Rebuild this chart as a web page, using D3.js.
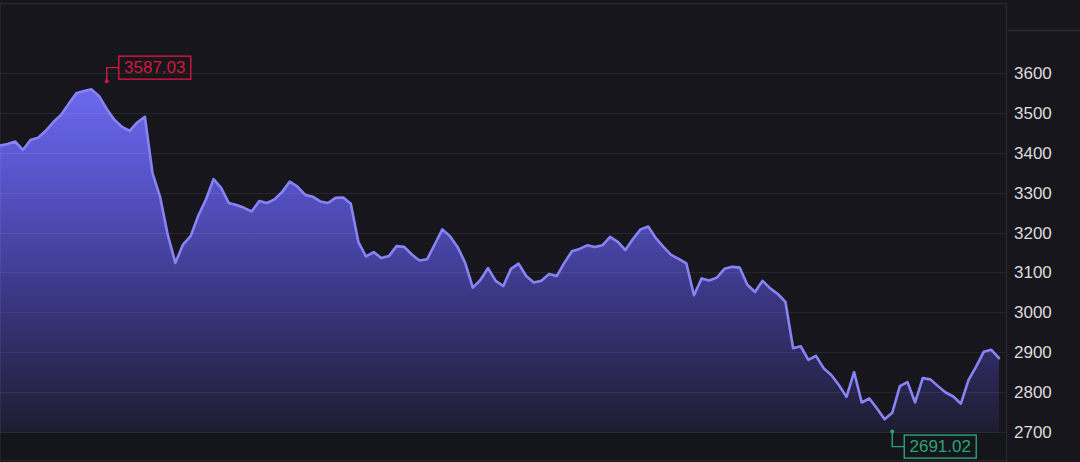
<!DOCTYPE html>
<html>
<head>
<meta charset="utf-8">
<script src="https://cdn.jsdelivr.net/npm/d3@7"></script>
<style>
  html, body { margin: 0; padding: 0; background: #17161c; }
  svg { display: block; }
  text { font-family: "Liberation Sans", Arial, sans-serif; }
</style>
</head>
<body>
<svg id="chart" width="1080" height="462"></svg>
<script>
// ---- data ----
const values = [
  3418, 3422, 3428, 3407, 3432, 3438, 3455, 3477, 3495, 3522,
  3549, 3555, 3559, 3542, 3510, 3483, 3465, 3455, 3476, 3490,
  3349, 3289, 3194, 3124, 3170, 3191, 3242, 3283, 3334, 3312,
  3274, 3269, 3262, 3253, 3279, 3274, 3283, 3302, 3328, 3315,
  3295, 3290, 3278, 3274, 3287, 3288, 3272, 3176, 3140, 3151,
  3136, 3141, 3166, 3164, 3145, 3130, 3133, 3170, 3208, 3191,
  3164, 3124, 3062, 3081, 3111, 3079, 3066, 3109, 3122, 3091,
  3075, 3079, 3096, 3091, 3124, 3153, 3159, 3168, 3164, 3168,
  3189, 3177, 3156, 3184, 3208, 3215, 3186, 3164, 3144, 3134,
  3123, 3043, 3085, 3080, 3087, 3109, 3114, 3112, 3069, 3051,
  3079, 3060, 3046, 3026, 2910, 2915, 2881, 2891, 2860, 2843,
  2818, 2788, 2850, 2774, 2784, 2759, 2732, 2748, 2815, 2825,
  2774, 2835, 2832, 2815, 2799, 2789, 2771, 2830, 2864, 2901,
  2906, 2885
];
const yTicks = [2700, 2800, 2900, 3000, 3100, 3200, 3300, 3400, 3500, 3600];
const maxMark = { index: 14, value: 3587.03, label: "3587.03" };
const minMark = { index: 117, value: 2691.02, label: "2691.02" };

// ---- layout ----
const W = 1080, H = 462;
const plotRight = 1006;
const svg = d3.select("#chart");

const x = d3.scaleLinear().domain([0, values.length - 1]).range([0, 999]);
const y = d3.scaleLinear().domain([2700, 3600]).range([432, 73]);

// background pieces
svg.append("rect").attr("x", 0).attr("y", 0).attr("width", W).attr("height", H).attr("fill", "#17161c");
svg.append("rect").attr("x", 0).attr("y", 433).attr("width", plotRight).attr("height", 27).attr("fill", "#141619");

// gradient
const defs = svg.append("defs");
const grad = defs.append("linearGradient")
  .attr("id", "areaGrad").attr("gradientUnits", "userSpaceOnUse")
  .attr("x1", 0).attr("x2", 0).attr("y1", 75).attr("y2", 433);
[
  [0, "#6f6bf3"],
  [0.25, "#5a57d0"],
  [0.5, "#45429f"],
  [0.63, "#393680"],
  [0.82, "#2b2858"],
  [1, "#1e1c30"]
].forEach(([o, c]) => grad.append("stop").attr("offset", o).attr("stop-color", c));

const area = d3.area()
  .x((d, i) => x(i))
  .y0(y(2698))
  .y1(d => y(d));
svg.append("path").datum(values).attr("d", area).attr("fill", "url(#areaGrad)");

// grid lines (drawn over area, subtle)
svg.append("g").selectAll("line").data(yTicks).join("line")
  .attr("x1", 0).attr("x2", plotRight)
  .attr("y1", d => Math.round(y(d)) + 0.5).attr("y2", d => Math.round(y(d)) + 0.5)
  .attr("stroke", "rgba(255,255,255,0.065)").attr("stroke-width", 1);

// frame lines
svg.append("line").attr("x1", 0).attr("x2", plotRight).attr("y1", 3.5).attr("y2", 3.5)
  .attr("stroke", "#2a2930").attr("stroke-width", 1.5);
svg.append("line").attr("x1", plotRight + 0.5).attr("x2", plotRight + 0.5).attr("y1", 3).attr("y2", H)
  .attr("stroke", "#2a2930").attr("stroke-width", 1.2);
svg.append("line").attr("x1", plotRight + 2).attr("x2", W).attr("y1", 30.5).attr("y2", 30.5)
  .attr("stroke", "#2e2d34").attr("stroke-width", 1.5);
svg.append("line").attr("x1", 0).attr("x2", plotRight).attr("y1", 460.5).attr("y2", 460.5)
  .attr("stroke", "#25262a").attr("stroke-width", 1);
svg.append("line").attr("x1", 0.5).attr("x2", 0.5).attr("y1", 3).attr("y2", 460)
  .attr("stroke", "rgba(255,255,255,0.06)").attr("stroke-width", 1);

// line
const line = d3.line().x((d, i) => x(i)).y(d => y(d));
svg.append("path").datum(values).attr("d", line)
  .attr("fill", "none").attr("stroke", "#8884f5").attr("stroke-width", 2.6)
  .attr("stroke-linejoin", "round").attr("stroke-linecap", "round");

// y axis on right
const axis = d3.axisRight(y).tickValues(yTicks).tickSize(0).tickPadding(8).tickFormat(d3.format("d"));
const gAxis = svg.append("g").attr("transform", `translate(${plotRight},0)`).call(axis);
gAxis.select(".domain").remove();
gAxis.selectAll("text")
  .attr("fill", "#dcdcde").attr("font-size", 17)
  .attr("font-family", "'Liberation Sans', Arial, sans-serif");

// annotations
function annotate(mark, color, up) {
  const px = x(mark.index), py = y(mark.value);
  const g = svg.append("g");
  const boxH = 23, boxW = 72;
  const offY = up ? -10.5 : 11;
  const bx = px + 12, by = py + offY - boxH / 2;
  g.append("circle").attr("cx", px).attr("cy", py + (up ? 3 : -4)).attr("r", 2).attr("fill", color);
  g.append("path")
    .attr("d", `M${px},${py + (up ? 3 : -4)} V${py + offY} H${bx}`)
    .attr("fill", "none").attr("stroke", color).attr("stroke-width", 1.4);
  g.append("rect").attr("x", bx).attr("y", by).attr("width", boxW).attr("height", boxH)
    .attr("fill", "none").attr("stroke", color).attr("stroke-width", 1.4);
  g.append("text").attr("x", bx + boxW / 2).attr("y", by + boxH / 2 + 1)
    .attr("text-anchor", "middle").attr("dominant-baseline", "middle")
    .attr("fill", color).attr("font-size", 17).text(mark.label);
}
annotate(maxMark, "#d4173f", true);
annotate(minMark, "#2aa37c", false);
</script>
</body>
</html>
